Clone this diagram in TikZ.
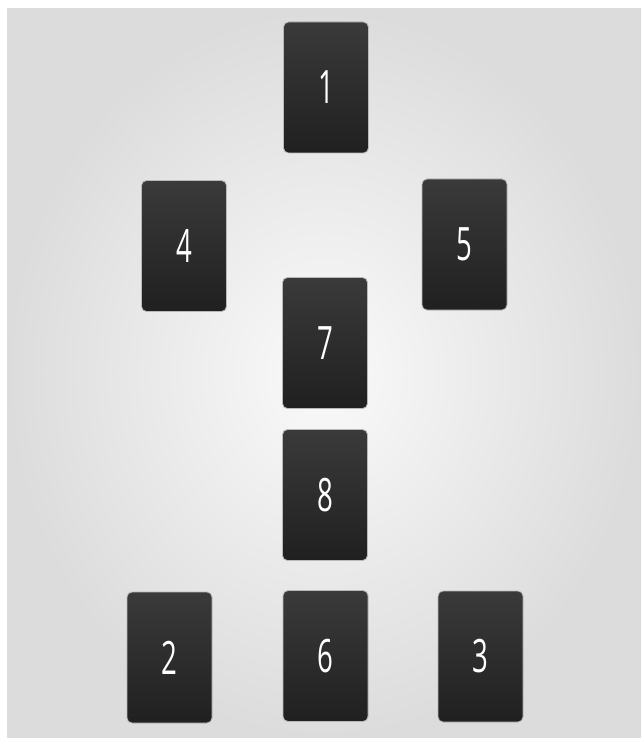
\documentclass[tikz,border=0pt]{standalone}
\usepackage{fontspec}
\newfontfamily\cardfont{Open Sans}
\definecolor{cardtop}{HTML}{3A3A3A}
\definecolor{cardbot}{HTML}{202020}
\definecolor{bgin}{HTML}{FAFAFA}
\definecolor{bgout}{HTML}{DCDCDC}

\begin{document}
\begin{tikzpicture}[x=1pt, y=-1pt,
    card/.style={draw=gray!55, line width=0.8pt, rounded corners=5pt, top color=cardtop, bottom color=cardbot,
      minimum width=85pt, minimum height=131pt, inner sep=0pt, text=white,
      font=\cardfont\fontsize{46}{46}\selectfont}]

  \useasboundingbox (0,0) rectangle (641,738);
  \fill[white] (0,0) rectangle (641,738);
  \shade[inner color=bgin, outer color=bgout] (7,9) rectangle (641,738);

  \node[card] (c1) at (326,87.5) {\scalebox{0.6}[1]{1}};
  \node[card] (c4) at (184,246) {\scalebox{0.6}[1]{4}};
  \node[card] (c5) at (464.5,244.5) {\scalebox{0.6}[1]{5}};
  \node[card] (c7) at (325,343) {\scalebox{0.6}[1]{7}};
  \node[card] (c8) at (325,495) {\scalebox{0.6}[1]{8}};
  \node[card] (c2) at (169.5,657.5) {\scalebox{0.6}[1]{2}};
  \node[card] (c6) at (325.5,656) {\scalebox{0.6}[1]{6}};
  \node[card] (c3) at (480.5,656.5) {\scalebox{0.6}[1]{3}};
\end{tikzpicture}
\end{document}
